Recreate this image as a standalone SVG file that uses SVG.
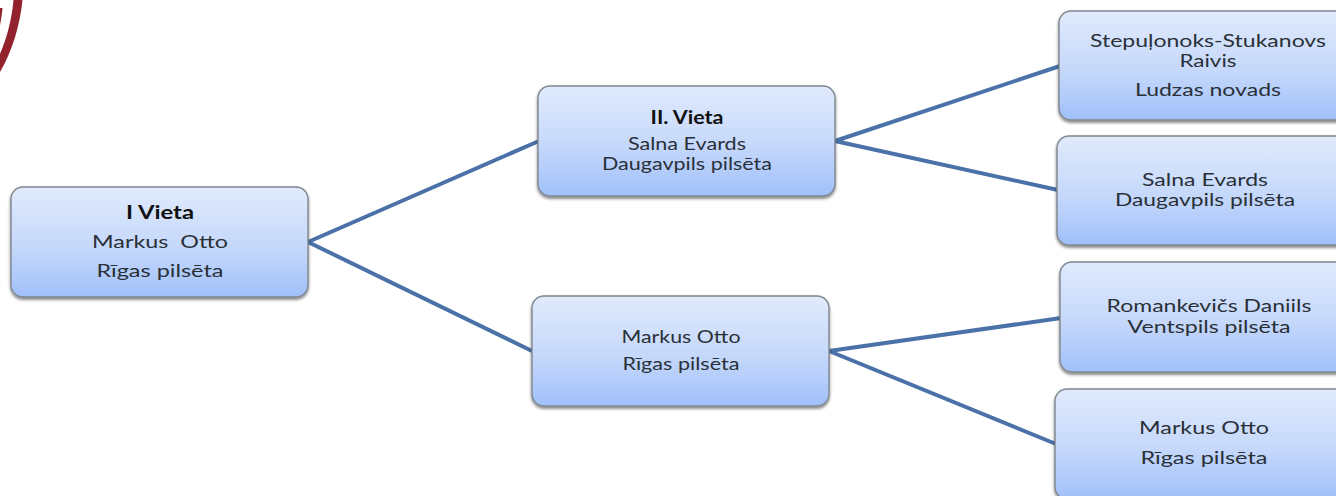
<svg xmlns="http://www.w3.org/2000/svg" width="1336" height="496" viewBox="0 0 1336 496">
<style>
text{font-family:"Lato","Liberation Sans",sans-serif;font-size:18px;fill:#2a3038;text-anchor:middle;white-space:pre}
.b{font-weight:700;fill:#111}
.t{font-size:17px}
.box{fill:url(#g);stroke:#7f8790;stroke-width:1.4;filter:url(#s)}
.c{fill:none;stroke:#4a72a8;stroke-width:4}
</style>
<defs>
<linearGradient id="g" x1="0" y1="0" x2="0" y2="1"><stop offset="0" stop-color="#e0eafc"/><stop offset=".55" stop-color="#c5d8fb"/><stop offset="1" stop-color="#a0c0fa"/></linearGradient>
<filter id="s" x="-5%" y="-10%" width="110%" height="125%"><feDropShadow dx="0" dy="2" stdDeviation="1.5" flood-color="#000" flood-opacity=".5"/></filter>
</defs>
<path d="M13.5 0L22.5 0C20 25 12 52 0 72L0 54C7 38 12 18 13.5 0Z" fill="#93222f"/>
<path d="M0 8L2.5 8C2 14 1 20 0 25Z" fill="#93222f"/>
<g id="connectors">
<path class="c" d="M308 242L539 141M308 242L532 351M835 141L1060 66M835 141L1058 190M829 351L1061 318M829 351L1056 444"/>
</g>
<g id="n1"><rect class="box" x="11" y="187" width="297" height="110" rx="12"/>
<text class="b" x="160" y="219" textLength="68" lengthAdjust="spacingAndGlyphs">I Vieta</text>
<text x="160" y="248" textLength="136" lengthAdjust="spacingAndGlyphs">Markus  Otto</text>
<text x="160" y="277" textLength="127" lengthAdjust="spacingAndGlyphs">Rīgas pilsēta</text></g>
<g id="n2"><rect class="box" x="538" y="86" width="297" height="110" rx="12"/>
<text class="b" x="687" y="124" textLength="73" lengthAdjust="spacingAndGlyphs">II. Vieta</text>
<text class="t" x="687" y="150" textLength="118" lengthAdjust="spacingAndGlyphs">Salna Evards</text>
<text class="t" x="687" y="170" textLength="170" lengthAdjust="spacingAndGlyphs">Daugavpils pilsēta</text></g>
<g id="n3"><rect class="box" x="532" y="296" width="297" height="110" rx="12"/>
<text x="681" y="343" textLength="119" lengthAdjust="spacingAndGlyphs">Markus Otto</text>
<text x="681" y="370" textLength="117" lengthAdjust="spacingAndGlyphs">Rīgas pilsēta</text></g>
<g id="n4"><rect class="box" x="1059" y="11" width="297" height="109" rx="12"/>
<text x="1208" y="47" textLength="236" lengthAdjust="spacingAndGlyphs">Stepuļonoks-Stukanovs</text>
<text x="1208" y="67" textLength="57" lengthAdjust="spacingAndGlyphs">Raivis</text>
<text x="1208" y="96" textLength="146" lengthAdjust="spacingAndGlyphs">Ludzas novads</text></g>
<g id="n5"><rect class="box" x="1057" y="136" width="297" height="109" rx="12"/>
<text x="1205" y="186" textLength="126" lengthAdjust="spacingAndGlyphs">Salna Evards</text>
<text x="1205" y="206" textLength="180" lengthAdjust="spacingAndGlyphs">Daugavpils pilsēta</text></g>
<g id="n6"><rect class="box" x="1060" y="262" width="297" height="110" rx="12"/>
<text x="1209" y="312" textLength="205" lengthAdjust="spacingAndGlyphs">Romankevičs Daniils</text>
<text x="1209" y="333" textLength="163" lengthAdjust="spacingAndGlyphs">Ventspils pilsēta</text></g>
<g id="n7"><rect class="box" x="1055" y="389" width="297" height="110" rx="12"/>
<text x="1204" y="434" textLength="130" lengthAdjust="spacingAndGlyphs">Markus Otto</text>
<text x="1204" y="464" textLength="127" lengthAdjust="spacingAndGlyphs">Rīgas pilsēta</text></g>
</svg>
